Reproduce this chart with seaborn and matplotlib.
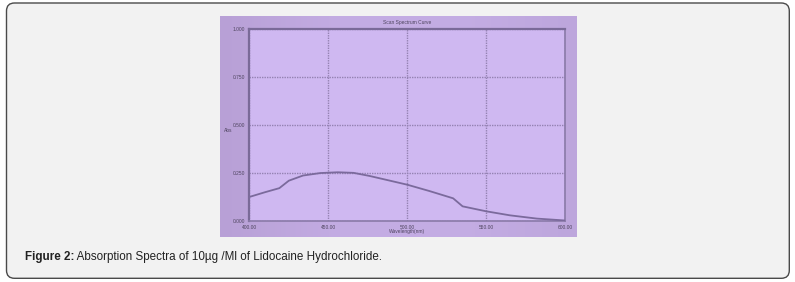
import numpy as np
import pandas as pd
import matplotlib
matplotlib.use("Agg")
import matplotlib.pyplot as plt
from matplotlib.patches import FancyBboxPatch
from matplotlib.transforms import IdentityTransform
from matplotlib.colors import LinearSegmentedColormap
import seaborn as sns

# ---- data ----
wavelength = [400, 410, 419, 425, 434, 445, 456, 466, 476, 487, 500, 514, 529, 535, 550, 565, 582, 600]
absorbance = [0.124, 0.149, 0.170, 0.209, 0.236, 0.249, 0.253, 0.250, 0.234, 0.213, 0.188,
              0.155, 0.117, 0.075, 0.049, 0.028, 0.011, 0.001]
x_ticks = [400, 450, 500, 550, 600]
x_tick_labels = ["400.00", "450.00", "500.00", "550.00", "600.00"]
y_ticks = [0.0, 0.25, 0.5, 0.75, 1.0]
y_tick_labels = ["0.000", "0.250", "0.500", "0.750", "1.000"]
title = "Scan Spectrum Curve"
x_label = "Wavelength(nm)"
y_label = "Abs"
caption_bold = "Figure 2:"
caption_rest = " Absorption Spectra of 10µg /Ml of Lidocaine Hydrochloride."

sns.set_style("white")
plt.rcParams["font.family"] = ["Liberation Sans", "DejaVu Sans"]

W, H = 795, 282
fig = plt.figure(figsize=(W / 100, H / 100), dpi=100)
fig.patch.set_facecolor("white")

# outer rounded box (pixel coordinates)
box = FancyBboxPatch((6.5, H - 278.3), 789.3 - 6.5, 278.3 - 3,
                     boxstyle="round,pad=0,rounding_size=8",
                     transform=IdentityTransform(), facecolor="#f2f2f2",
                     edgecolor="#4a4a4a", linewidth=1.0, zorder=0)
fig.add_artist(box)

def fx(px):
    return px / W

def fy(py):
    return (H - py) / H

# chart frame with slight gradient
bg = fig.add_axes([fx(220), fy(237), fx(577) - fx(220), fy(16) - fy(237)])
grad = np.linspace(0, 1, 200)[None, :]
cmap = LinearSegmentedColormap.from_list("fr", ["#b8a0d6", "#c3ace3", "#c4ade4", "#bda6dc"])
bg.imshow(grad, aspect="auto", cmap=cmap, extent=[0, 1, 0, 1])
bg.set_axis_off()

# plot area
ax = fig.add_axes([fx(249.3), fy(220.7), fx(565.3) - fx(249.3), fy(29.3) - fy(220.7)])
ax.set_facecolor("#cfb8f1")
df = pd.DataFrame({"wavelength": wavelength, "absorbance": absorbance})
sns.lineplot(data=df, x="wavelength", y="absorbance", ax=ax, color="#7b6a9c",
             linewidth=1.3, zorder=3)
ax.set_xlim(400, 600)
ax.set_ylim(0, 1)
ax.set_xticks(x_ticks)
ax.set_xticklabels(x_tick_labels)
ax.set_yticks(y_ticks)
ax.set_yticklabels(y_tick_labels)
ax.tick_params(axis="both", labelsize=3.5, colors="#4f4560", length=0, pad=3)
ax.grid(True, linestyle=(0, (1.0, 0.8)), color="#9482b2", linewidth=1.0)
ax.set_axisbelow(True)
for side in ["top", "left"]:
    ax.spines[side].set_color("#7a6a98")
    ax.spines[side].set_linewidth(1.6)
for side in ["bottom", "right"]:
    ax.spines[side].set_color("#8a7aa8")
    ax.spines[side].set_linewidth(1.2)
ax.set_xlabel("")
ax.set_ylabel("")

fig.text(fx(407), fy(22.5), title, fontsize=3.5, color="#4f4560", ha="center", va="center")
fig.text(fx(407), fy(232), x_label, fontsize=3.5, color="#4f4560", ha="center", va="center")
fig.text(fx(224), fy(131), y_label, fontsize=3.5, color="#4f4560", ha="left", va="center")

# caption
t1 = fig.text(fx(25), fy(257), caption_bold, fontsize=8.4, fontweight="bold",
              color="#222222", ha="left", va="center")
fig.canvas.draw()
bb = t1.get_window_extent()
fig.text((bb.x1) / W, fy(257), caption_rest, fontsize=8.4, color="#222222",
         ha="left", va="center")

fig.savefig("out.png", dpi=100, facecolor=fig.get_facecolor())
